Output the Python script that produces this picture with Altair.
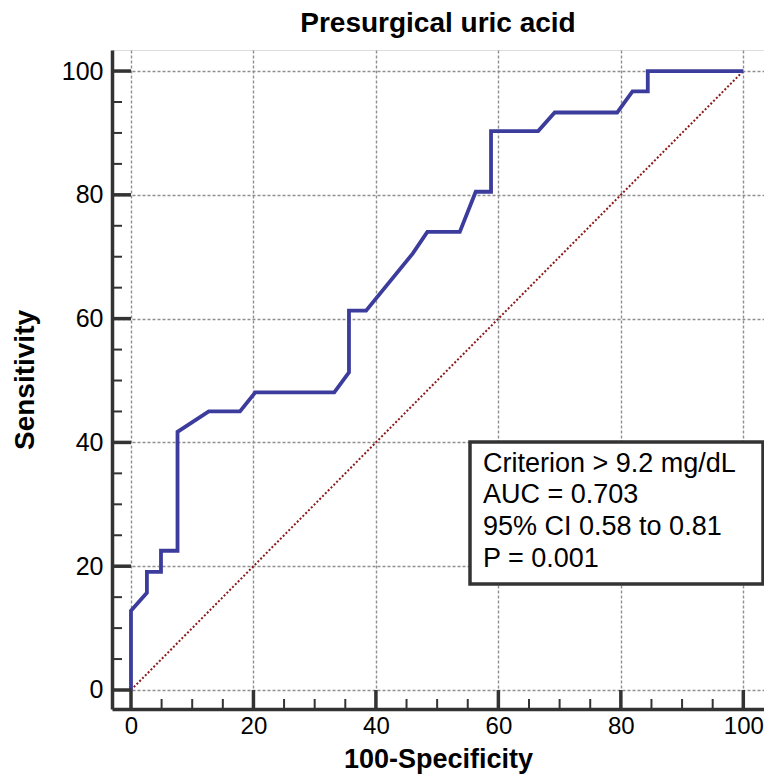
import altair as alt
import pandas as pd

# ROC curve points
spec = [0, 0, 2.6, 2.6, 4.9, 4.9, 7.6, 7.6, 12.7, 17.8, 20.3, 33.2, 35.6, 35.6,
        38.4, 46.0, 48.4, 53.7, 56.3, 58.8, 58.8, 66.5, 69.2, 79.4, 81.9, 84.4, 84.4, 100]
sens = [0, 12.8, 15.7, 19.1, 19.1, 22.5, 22.5, 41.7, 45.0, 45.0, 48.1, 48.1, 51.3, 61.3,
        61.3, 70.5, 74.0, 74.0, 80.5, 80.5, 90.3, 90.3, 93.3, 93.3, 96.7, 96.7, 100, 100]
diag_x = [0, 100]
diag_y = [0, 100]
major_ticks = [0, 20, 40, 60, 80, 100]
minor_ticks = [v for v in range(0, 101, 5) if v % 20 != 0]
box_lines = ["Criterion > 9.2 mg/dL", "AUC = 0.703", "95% CI 0.58 to 0.81", "P = 0.001"]

FONT = "Liberation Sans"
W, H = 652, 659
XDOM = [-3.1, 103.38]
YDOM = [-3.07, 103.4]

curve = pd.DataFrame({"x": spec, "y": sens, "i": list(range(len(spec)))})
diag = pd.DataFrame({"x": diag_x, "y": diag_y, "i": [0, 1]})
majors = pd.DataFrame({"v": major_ticks})
minors = pd.DataFrame({"v": minor_ticks})
txt = pd.DataFrame({"t": box_lines, "k": list(range(len(box_lines)))})

xs = alt.Scale(domain=XDOM, nice=False, zero=False)
ys = alt.Scale(domain=YDOM, nice=False, zero=False)

xaxis = alt.Axis(values=major_ticks, title="100-Specificity", ticks=False,
                 domainColor="#333333", domainWidth=3.5, labelFontSize=24,
                 labelPadding=5, labelColor="black", labelFont=FONT,
                 titleFont=FONT, titleFontSize=27, titleFontWeight="bold",
                 titleColor="black", titlePadding=8,
                 grid=True, gridColor="#8f8f8f", gridDash=[3, 2], gridWidth=1.4)
yaxis = alt.Axis(values=major_ticks, title="Sensitivity", ticks=False,
                 domainColor="#333333", domainWidth=3.5, labelFontSize=25,
                 labelPadding=9, labelColor="black", labelFont=FONT,
                 titleFont=FONT, titleFontSize=28, titleFontWeight="bold",
                 titleColor="black", titlePadding=22,
                 grid=True, gridColor="#8f8f8f", gridDash=[3, 2], gridWidth=1.4)

base_line = alt.Chart(diag).mark_line(color="#8b1a1a", strokeWidth=2, strokeDash=[2, 2],
                                      aria=False).encode(
    x=alt.X("x:Q", scale=xs, axis=xaxis),
    y=alt.Y("y:Q", scale=ys, axis=yaxis),
    order="i:Q",
)

roc = alt.Chart(curve).mark_line(color="#3c3c9c", strokeWidth=3.8, strokeJoin="miter",
                                 aria=False).encode(
    x=alt.X("x:Q", scale=xs),
    y=alt.Y("y:Q", scale=ys),
    order="i:Q",
)

ymaj = alt.Chart(majors).mark_rule(color="#333333", strokeWidth=3.5, aria=False).encode(
    y=alt.Y("v:Q", scale=ys), x=alt.value(0), x2=alt.value(19))
ymin = alt.Chart(minors).mark_rule(color="#333333", strokeWidth=2, aria=False).encode(
    y=alt.Y("v:Q", scale=ys), x=alt.value(0), x2=alt.value(10))
xmaj = alt.Chart(majors).mark_rule(color="#333333", strokeWidth=3.5, aria=False).encode(
    x=alt.X("v:Q", scale=xs), y=alt.value(H), y2=alt.value(H - 19))
xmin = alt.Chart(minors).mark_rule(color="#333333", strokeWidth=2, aria=False).encode(
    x=alt.X("v:Q", scale=xs), y=alt.value(H), y2=alt.value(H - 10))

box = alt.Chart(pd.DataFrame({"a": [1]})).mark_rect(
    fill="white", stroke="#333333", strokeWidth=3.5, aria=False).encode(
    x=alt.value(358), x2=alt.value(651), y=alt.value(392), y2=alt.value(534))

text = alt.Chart(txt).mark_text(align="left", baseline="alphabetic", font=FONT,
                                fontSize=27, color="black").encode(
    x=alt.value(371),
    y=alt.Y("k:Q", scale=alt.Scale(domain=[0, 3], range=[421.5, 516.5]), axis=None),
    text="t:N",
)

chart = alt.layer(base_line, roc, ymaj, ymin, xmaj, xmin, box, text).resolve_scale(
    y="independent"
).properties(
    width=W, height=H,
    title=alt.TitleParams("Presurgical uric acid", font=FONT, fontSize=28,
                          fontWeight="bold", color="black", frame="group",
                          anchor="middle", offset=12),
    autosize=alt.AutoSizeParams(type="none"),
    padding={"left": 104, "top": 42, "right": 0, "bottom": 66},
).configure_view(stroke=None).configure(background="white")

chart.save("out.html", embed_options={"renderer": "svg", "actions": False})
